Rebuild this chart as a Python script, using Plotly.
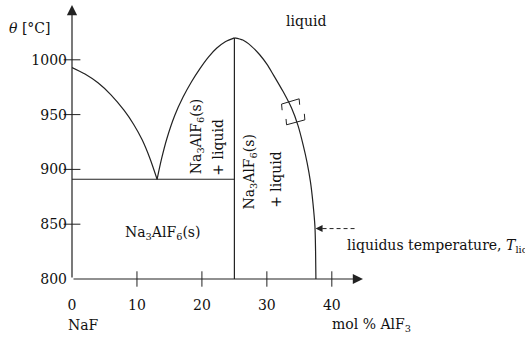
import plotly.graph_objects as go

# ---- data ----
left_liq_x = [0, 2, 4, 6, 8, 9.5, 10.8, 12.0, 13.1]
left_liq_T = [993, 987, 979, 968, 954, 941, 927, 910, 891]

mid_liq_x = [13.1, 13.8, 14.6, 15.8, 17.1, 18.4, 19.7, 21.0, 22.3, 23.6, 25.0]
mid_liq_T = [891, 910, 928, 949, 966, 980, 992, 1002.5, 1010.7, 1016.5, 1020]

right_liq_x = [25.0, 26.3, 27.6, 28.9, 30.0, 31.0, 32.5, 33.8, 34.8, 35.6, 36.2, 36.7, 37.1, 37.4, 37.5, 37.55]
right_liq_T = [1020, 1018, 1012.5, 1004.6, 996, 986.3, 971, 956, 940, 922, 906, 889, 869, 848, 825, 800]

compound_x = [25, 25]
compound_T = [800, 1020]

eutectic_x = [0, 25]
eutectic_T = [891, 891]

bracket_x = [32.35, 32.26, 34.97, 35.05, None, 32.95, 33.03, 35.85, 35.77]
bracket_T = [954, 959.6, 964.4, 959, None, 946, 940.7, 945.2, 950.7]

x_ticks = [10, 20, 30, 40]
x_labels = ["0", "10", "20", "30", "40"]
x_label_vals = [0, 10, 20, 30, 40]
y_ticks = [850, 900, 950, 1000]
y_label_vals = [800, 850, 900, 950, 1000]

arrow_T = 846
arrow_tail_x = [43.5, 38.3]

FONT = "DejaVu Serif"
LC = "#222222"

fig = go.Figure()

def line(x, y, width=1.2, dash="solid", shape="linear"):
    fig.add_trace(go.Scatter(x=x, y=y, mode="lines",
                             line=dict(color=LC, width=width, dash=dash, shape=shape, smoothing=0.8),
                             hoverinfo="skip", showlegend=False, cliponaxis=False))

line(left_liq_x, left_liq_T, shape="spline")
line(mid_liq_x, mid_liq_T, shape="spline")
line(right_liq_x, right_liq_T, shape="spline")
line(compound_x, compound_T)
line(eutectic_x, eutectic_T)
line(bracket_x, bracket_T, width=1.0)
line(arrow_tail_x, [arrow_T, arrow_T], width=1.0, dash="4px,3px")

# crossing tick marks
fig.add_trace(go.Scatter(x=x_ticks, y=[800] * len(x_ticks), mode="markers",
                         marker=dict(symbol="line-ns-open", size=11, color=LC, line=dict(color=LC, width=1)),
                         hoverinfo="skip", showlegend=False, cliponaxis=False))
fig.add_trace(go.Scatter(x=[0] * len(y_ticks), y=y_ticks, mode="markers",
                         marker=dict(symbol="line-ew-open", size=12, color=LC, line=dict(color=LC, width=1)),
                         hoverinfo="skip", showlegend=False, cliponaxis=False))

ann = []
# axes with arrow heads
ann.append(dict(x=0, y=1050, ax=0, ay=800, xref="x", yref="y", axref="x", ayref="y",
                showarrow=True, arrowhead=2, arrowsize=1.7, arrowwidth=1.2, arrowcolor=LC, text=""))
ann.append(dict(x=44.8, y=800, ax=0, ay=800, xref="x", yref="y", axref="x", ayref="y",
                showarrow=True, arrowhead=2, arrowsize=1.7, arrowwidth=1.2, arrowcolor=LC, text=""))
# liquidus arrow head
ann.append(dict(x=37.5, y=arrow_T, ax=38.8, ay=arrow_T, xref="x", yref="y", axref="x", ayref="y",
                showarrow=True, arrowhead=2, arrowsize=1.4, arrowwidth=1.0, arrowcolor=LC, text=""))

def txt(x, y, s, angle=0, xanchor="center", ref="data", size=14):
    r = ("x", "y") if ref == "data" else ("paper", "paper")
    ann.append(dict(x=x, y=y, xref=r[0], yref=r[1], text=s, showarrow=False, textangle=angle,
                    xanchor=xanchor, yanchor="middle", font=dict(family=FONT, size=size, color="#111")))

txt(-0.144, 0.916, "<i>θ</i> [°C]", ref="paper")
txt(36.0, 1035.5, "liquid")
txt(14.0, 842, "Na<sub>3</sub>AlF<sub>6</sub>(s)")
txt(19.2, 930, "Na<sub>3</sub>AlF<sub>6</sub>(s)", angle=-90)
txt(22.5, 920, "+ liquid", angle=-90)
txt(27.4, 898, "Na<sub>3</sub>AlF<sub>6</sub>(s)", angle=-90)
txt(31.5, 891, "+ liquid", angle=-90)
txt(42.1, 830, "liquidus temperature, <i>T</i><sub>liq</sub>", xanchor="left")
txt(0.041, -0.168, "NaF", ref="paper")
txt(0.887, -0.168, "mol % AlF<sub>3</sub>", xanchor="left", ref="paper")

fig.update_layout(
    width=525, height=339,
    margin=dict(l=72, r=162, t=5, b=60),
    paper_bgcolor="white", plot_bgcolor="white",
    annotations=ann,
    xaxis=dict(range=[0, 44.8], showgrid=False, zeroline=False, showline=False,
               tickvals=x_label_vals, ticktext=x_labels, ticks="", ticklabelstandoff=16,
               tickfont=dict(family=FONT, size=14, color="#111")),
    yaxis=dict(range=[800, 1050], showgrid=False, zeroline=False, showline=False,
               tickvals=y_label_vals, ticks="", ticklabelstandoff=4,
               tickfont=dict(family=FONT, size=14, color="#111")),
)

fig.write_html("out.html")
